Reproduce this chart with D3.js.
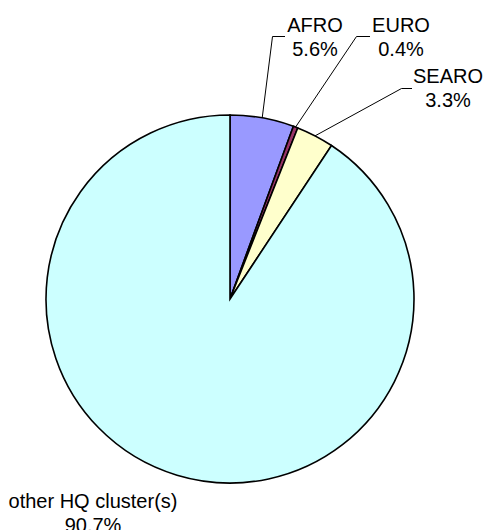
<!DOCTYPE html>
<html>
<head>
<meta charset="utf-8">
<script src="https://cdn.jsdelivr.net/npm/d3@7"></script>
<style>
  html, body { margin: 0; padding: 0; background: #fff; }
  svg { display: block; }
  text { font-family: "Liberation Sans", Arial, sans-serif; font-size: 20px; fill: #000; }
</style>
</head>
<body>
<script>
// ---- data ----
const categories = ["AFRO", "EURO", "SEARO", "other HQ cluster(s)"];
const values = [5.6, 0.4, 3.3, 90.7];
const valueLabels = ["5.6%", "0.4%", "3.3%", "90.7%"];
const colors = ["#9999FF", "#993366", "#FFFFCC", "#CCFFFF"];

// ---- layout ----
const W = 487, H = 530;
const cx = 230, cy = 299, R = 184;
// label placement: text center (x), first-line baseline (y), leader elbow (ex, ey), elbow end (hx)
const labelLayout = [
  { x: 315, y: 31.5, ex: 272.5, ey: 36.5, hx: 285, leader: true },
  { x: 401, y: 31.5, ex: 356.5, ey: 36.5, hx: 370, leader: true },
  { x: 448, y: 83,   ex: 401.5, ey: 88.5, hx: 412, leader: true },
  { x: 93,  y: 508,  leader: false }
];
const lineGap = 24;

const svg = d3.select("body").append("svg")
  .attr("width", W).attr("height", H);

const pie = d3.pie().sort(null).value(d => d)(values);
const arc = d3.arc().innerRadius(0).outerRadius(R);

const g = svg.append("g").attr("transform", `translate(${cx},${cy})`);
g.selectAll("path.slice")
  .data(pie)
  .join("path")
  .attr("class", "slice")
  .attr("d", arc)
  .attr("fill", (d, i) => colors[i])
  .attr("stroke", "#000")
  .attr("stroke-width", 1.6)
  .attr("stroke-linejoin", "miter");

// leader lines
pie.forEach((d, i) => {
  const L = labelLayout[i];
  if (!L.leader) return;
  const a = (d.startAngle + d.endAngle) / 2;
  const sx = cx + R * Math.sin(a), sy = cy - R * Math.cos(a);
  svg.append("polyline")
    .attr("points", `${sx},${sy} ${L.ex},${L.ey} ${L.hx},${L.ey}`)
    .attr("fill", "none")
    .attr("stroke", "#000")
    .attr("stroke-width", 1);
});

// labels
categories.forEach((c, i) => {
  const L = labelLayout[i];
  const t = svg.append("text").attr("text-anchor", "middle");
  t.append("tspan").attr("x", L.x).attr("y", L.y).text(c);
  t.append("tspan").attr("x", L.x).attr("y", L.y + lineGap).text(valueLabels[i]);
});
</script>
</body>
</html>
